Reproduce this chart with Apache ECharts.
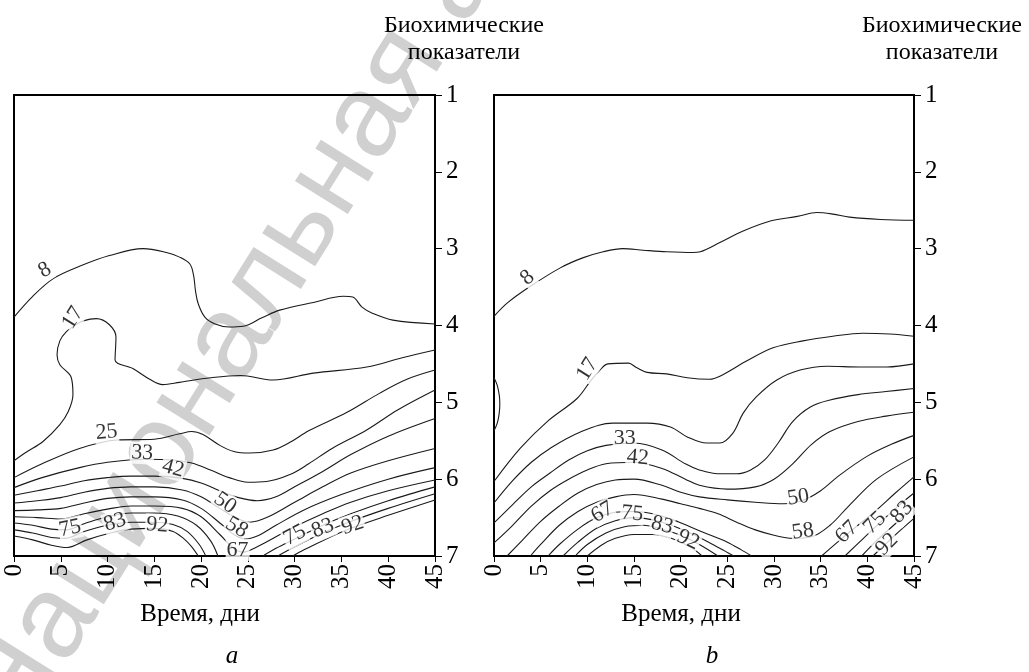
<!DOCTYPE html>
<html><head><meta charset="utf-8">
<script src="https://cdn.jsdelivr.net/npm/echarts/dist/echarts.min.js"></script>
<style>html,body{margin:0;padding:0;background:#fff}#c{width:1029px;height:672px}</style>
</head><body><div id="c"></div>
<script>
// tick labels
const dayTicks = [0,5,10,15,20,25,30,35,40,45];
const indicatorTicks = [1,2,3,4,5,6,7];
const xTitle = 'Время, дни';
const yTitle = ['Биохимические','показатели'];
const panelNames = ['a','b'];

// ---- Panel a contour lines: [day, indicator] ----
const a8 = [[0,3.89],[2,3.62],[4.2,3.39],[7,3.23],[10.2,3.09],[13.8,3.0],[16.3,3.05],[17.7,3.11],[18.8,3.2],[19.2,3.35],[19.4,3.55],[19.7,3.72],[20.4,3.89],[21.5,3.98],[23,4.02],[24.5,4.01],[26.5,3.9],[28.4,3.80],[32,3.70],[35.2,3.62],[36.2,3.63],[37.2,3.76],[38.3,3.84],[40.5,3.93],[45,3.98]];
const a17 = [[0,5.76],[1.3,5.65],[3.1,5.51],[4.9,5.29],[5.8,5.12],[6.3,4.9],[6.1,4.67],[4.9,4.51],[4.6,4.38],[4.9,4.2],[5.6,4.08],[6.5,4.0],[7.4,3.94],[8.8,3.91],[10.2,3.99],[10.9,4.15],[10.8,4.45],[12.7,4.56],[14.5,4.70],[15.9,4.77],[17.7,4.74],[21,4.68],[24.2,4.65],[27.7,4.71],[32,4.62],[37.7,4.54],[41.5,4.42],[45,4.32]];
const a25 = [[0,5.98],[3,5.8],[7,5.6],[11,5.49],[15,5.48],[17.7,5.41],[19,5.38],[20.2,5.42],[22,5.56],[23.5,5.64],[25.2,5.66],[27.7,5.62],[29.5,5.52],[31.5,5.37],[35.6,5.13],[39.1,4.88],[42,4.7],[45,4.58]];
const a33 = [[0,6.11],[3,5.98],[7,5.85],[10,5.78],[14,5.74],[17,5.75],[19,5.79],[21,5.88],[23,5.98],[25,6.04],[27,6.03],[29.5,5.94],[31.5,5.8],[34,5.6],[37.7,5.36],[41,5.1],[45,4.84]];
const a42 = [[0,6.21],[2.5,6.15],[5,6.09],[7.5,6.02],[10,5.98],[12.5,5.96],[15,5.96],[18,5.99],[20,6.05],[22,6.15],[24,6.24],[26,6.28],[28,6.23],[30,6.1],[33,5.9],[36,5.68],[40,5.44],[45,5.21]];
const a50 = [[0,6.31],[2.5,6.28],[5,6.24],[7.5,6.17],[10,6.12],[12.5,6.1],[15,6.1],[18,6.14],[20,6.23],[22,6.38],[24,6.52],[25.2,6.56],[27,6.5],[30,6.3],[33,6.1],[36,5.92],[40,5.76],[45,5.6]];
const a58 = [[0,6.41],[2.5,6.4],[5,6.38],[7.5,6.31],[10,6.25],[12.5,6.23],[15,6.23],[18,6.27],[20,6.38],[22,6.57],[23.5,6.72],[24.7,6.78],[26,6.74],[28,6.6],[31,6.4],[35,6.2],[40,6.0],[45,5.85]];
const a67 = [[0,6.49],[2.5,6.5],[5,6.52],[7.5,6.45],[10,6.39],[12.5,6.35],[15,6.35],[18,6.38],[20,6.49],[22,6.72],[23.5,6.9],[24.5,6.95],[26,6.88],[28,6.75],[30,6.62],[33,6.45],[36,6.3],[40,6.15],[45,6.01]];
const a75 = [[0,6.57],[2,6.6],[4,6.65],[5.5,6.66],[7.5,6.58],[10,6.49],[12.5,6.44],[15,6.44],[17.5,6.48],[19.5,6.6],[21,6.8],[21.8,7]];
const a83 = [[0,6.66],[2,6.7],[4,6.76],[5.5,6.77],[7.5,6.68],[10,6.6],[12.5,6.56],[15,6.56],[17,6.59],[18.5,6.68],[19.8,6.85],[20.5,7]];
const a92 = [[0,6.74],[2,6.79],[4,6.86],[5.7,6.89],[7.8,6.79],[10.3,6.7],[12.5,6.65],[15,6.64],[17,6.68],[18.2,6.78],[19,6.88],[19.7,7]];
const a75r = [[26.6,7],[28,6.9],[30,6.78],[33,6.6],[36,6.45],[40,6.28],[45,6.10]];
const a83r = [[28.2,7],[30,6.88],[33,6.7],[36,6.55],[40,6.38],[45,6.19]];
const a92r = [[29.8,7],[31,6.92],[33,6.8],[36,6.64],[40,6.47],[45,6.27]];
const linesA = [a8,a17,a25,a33,a42,a50,a58,a67,a75,a83,a92,a75r,a83r,a92r];

// labels on panel a: [day, indicator, text]
const labelsA = [[3.3,3.28,'8'],[6.3,3.90,'17'],[9.9,5.39,'25'],[13.7,5.66,'33'],[17.0,5.86,'42'],[22.55,6.31,'50'],[23.8,6.63,'58'],[23.9,6.92,'67'],[6.0,6.64,'75'],[10.8,6.56,'83'],[15.3,6.60,'92'],[30.0,6.73,'75'],[33.0,6.64,'83'],[36.2,6.60,'92']];
const rotA = [30,58,5,-3,-15,-35,-30,0,12,18,-5,28,22,18];

// ---- Panel b contour lines ----
const b8 = [[0,3.88],[1.5,3.7],[3.9,3.49],[7.1,3.25],[9.5,3.12],[11.7,3.04],[13.8,3.0],[16,3.02],[18.5,3.04],[21.3,3.05],[22.1,3.04],[24.2,2.92],[26.7,2.77],[29.6,2.64],[32.5,2.58],[34.6,2.53],[36.3,2.55],[38.1,2.59],[41.4,2.62],[45,2.63]];
const b17 = [[0,6.03],[2.8,5.6],[5.7,5.25],[8.9,4.95],[10.3,4.73],[11.2,4.6],[12.2,4.5],[14.4,4.49],[15.3,4.55],[16.4,4.61],[18.5,4.63],[20.7,4.68],[23.1,4.70],[24.2,4.66],[27.1,4.46],[29.9,4.29],[33.1,4.20],[36.3,4.14],[39.5,4.10],[42.4,4.11],[45,4.14]];
const b17loop = [[0,4.68],[0.35,4.78],[0.58,4.92],[0.62,5.03],[0.55,5.15],[0.35,5.27],[0,5.37]];
const b25 = [[0,6.31],[2,6.02],[4,5.78],[6,5.6],[9.2,5.39],[12.75,5.27],[16.4,5.27],[18.9,5.32],[20.7,5.45],[22.8,5.53],[24.2,5.53],[25.6,5.40],[26.7,5.14],[28.1,4.93],[30.3,4.71],[32.8,4.58],[35.7,4.53],[39.2,4.54],[42.1,4.54],[45,4.50]];
const b33 = [[0,6.57],[2,6.33],[4,6.1],[6,5.92],[8,5.75],[10,5.63],[12,5.56],[15,5.53],[18,5.62],[20.5,5.8],[22,5.88],[24,5.93],[26,5.93],[27.5,5.88],[29,5.75],[30.5,5.52],[32,5.25],[33.9,5.06],[36,4.97],[39,4.9],[42,4.86],[45,4.82]];
const b42 = [[0,6.83],[2,6.6],[4,6.35],[6,6.15],[8,6.0],[10,5.88],[12,5.8],[15,5.78],[18,5.86],[20.5,6.0],[22,6.08],[25,6.13],[28,6.1],[30,6.0],[32,5.8],[34,5.55],[36,5.38],[39,5.25],[42,5.18],[45,5.13]];
const b50 = [[1.4,7],[3,6.8],[5,6.55],[7,6.35],[9,6.18],[11,6.07],[13,6.01],[15,6.0],[18,6.08],[20,6.17],[22,6.23],[25,6.27],[28,6.3],[31,6.32],[33,6.28],[35,6.15],[37,5.95],[40,5.7],[42.5,5.55],[45,5.43]];
const b58 = [[3.9,7],[5,6.85],[7,6.6],[9,6.42],[11,6.3],[13,6.23],[15,6.2],[18,6.26],[20,6.32],[22,6.38],[24,6.45],[26,6.56],[28,6.66],[30,6.73],[32,6.77],[34,6.75],[36,6.6],[38,6.35],[41,6.0],[45,5.71]];
const b67 = [[5.8,7],[7,6.85],[9,6.65],[11,6.5],[13,6.43],[15,6.42],[17,6.45],[19,6.52],[21,6.62],[23,6.72],[25,6.82],[26.5,6.92],[27.6,7]];
const b75 = [[7.4,7],[9,6.82],[11,6.64],[13,6.54],[15,6.5],[17,6.53],[19,6.6],[21,6.7],[23,6.82],[24.8,6.94],[25.7,7]];
const b83 = [[8.7,7],[10,6.85],[12,6.7],[14,6.62],[16,6.6],[18,6.65],[20,6.73],[22,6.85],[24,7]];
const b92 = [[10,7],[11.5,6.86],[13,6.77],[15,6.72],[17,6.72],[19,6.77],[21,6.88],[22.3,7]];
const b67r = [[35.1,7],[37,6.8],[39,6.6],[41,6.4],[43,6.18],[45,5.97]];
const b75r = [[37.6,7],[39.5,6.78],[41.5,6.55],[43.3,6.35],[45,6.18]];
const b83r = [[39.4,7],[41,6.8],[43,6.58],[45,6.36]];
const b92r = [[40.6,7],[42,6.84],[43.5,6.67],[45,6.51]];
const linesB = [b8,b17,b17loop,b25,b33,b42,b50,b58,b67,b75,b83,b92,b67r,b75r,b83r,b92r];

const labelsB = [[3.6,3.38,'8'],[10.0,4.57,'17'],[14.0,5.47,'33'],[15.4,5.72,'42'],[32.6,6.24,'50'],[33.1,6.68,'58'],[11.6,6.43,'67'],[14.8,6.45,'75'],[18.0,6.60,'83'],[20.8,6.79,'92'],[37.8,6.69,'67'],[40.8,6.57,'75'],[43.7,6.43,'83'],[42.1,6.85,'92']];
const rotB = [40,58,0,-5,8,8,30,-5,-15,-25,45,45,48,45];

const watermark = 'Национальная академия наук Беларуси';

const SERIF = 'Liberation Serif, Times New Roman, serif';
const chart = echarts.init(document.getElementById('c'), null, {renderer:'canvas'});

function xAx(g){
  return {gridIndex:g,type:'value',min:0,max:45,interval:5,
    axisLine:{show:true,onZero:false,lineStyle:{color:'#000',width:2}},
    axisTick:{show:true,length:6,lineStyle:{color:'#000',width:1}},
    axisLabel:{rotate:90,margin:8,fontFamily:SERIF,fontSize:25,color:'#000',
      formatter:v=>dayTicks.includes(v)?String(v):''},
    splitLine:{show:false}};
}
function yAx(g){
  return {gridIndex:g,type:'value',position:'right',inverse:true,min:1,max:7,interval:1,
    axisLine:{show:true,onZero:false,lineStyle:{color:'#000',width:2}},
    axisTick:{show:true,length:7,lineStyle:{color:'#000',width:1}},
    axisLabel:{margin:11,fontFamily:SERIF,fontSize:25,color:'#000',
      formatter:v=>indicatorTicks.includes(v)?String(v):''},
    splitLine:{show:false}};
}
function lineSeries(arr,g){
  return {type:'line',xAxisIndex:g,yAxisIndex:g,data:arr,smooth:0.35,symbol:'none',
    silent:true,lineStyle:{color:'#1a1a1a',width:1.1},z:3};
}
function labelSeries(labels,rots,g){
  return {type:'scatter',xAxisIndex:g,yAxisIndex:g,symbolSize:1,silent:true,z:5,
    itemStyle:{color:'rgba(0,0,0,0)'},
    label:{show:true,position:'inside',fontFamily:SERIF,fontSize:22,color:'#000',
      backgroundColor:'#fff',padding:[0,1]},
    data:labels.map((l,i)=>({value:[l[0],l[1]],label:{formatter:l[2],rotate:rots[i]}}))};
}

const series = [];
linesA.forEach(a=>series.push(lineSeries(a,0)));
linesB.forEach(a=>series.push(lineSeries(a,1)));
series.push(labelSeries(labelsA,rotA,0));
series.push(labelSeries(labelsB,rotB,1));

const option = {
  animation:false,
  backgroundColor:'#fff',
  grid:[
    {left:14,top:95,width:421,height:461,show:true,borderColor:'#000',borderWidth:2,containLabel:false,outerBoundsMode:'none'},
    {left:494,top:95,width:420,height:461,show:true,borderColor:'#000',borderWidth:2,containLabel:false,outerBoundsMode:'none'}
  ],
  xAxis:[xAx(0),xAx(1)],
  yAxis:[yAx(0),yAx(1)],
  series:series,
  graphic:{elements:[
    {type:'text',z:-10,silent:true,x:-8,y:722,rotation:58*Math.PI/180,
      style:{text:watermark,fontFamily:'Liberation Sans, Arial, sans-serif',fontSize:118,fill:'rgba(150,150,150,0.45)',textVerticalAlign:'middle',textAlign:'left'}},
    {type:'text',x:464,y:26,style:{text:yTitle[0],fontFamily:SERIF,fontSize:24,fill:'#000',textAlign:'center',textVerticalAlign:'middle'}},
    {type:'text',x:464,y:53,style:{text:yTitle[1],fontFamily:SERIF,fontSize:24,fill:'#000',textAlign:'center',textVerticalAlign:'middle'}},
    {type:'text',x:942,y:26,style:{text:yTitle[0],fontFamily:SERIF,fontSize:24,fill:'#000',textAlign:'center',textVerticalAlign:'middle'}},
    {type:'text',x:942,y:53,style:{text:yTitle[1],fontFamily:SERIF,fontSize:24,fill:'#000',textAlign:'center',textVerticalAlign:'middle'}},
    {type:'text',x:200,y:614,style:{text:xTitle,fontFamily:SERIF,fontSize:25,fill:'#000',textAlign:'center',textVerticalAlign:'middle'}},
    {type:'text',x:681,y:614,style:{text:xTitle,fontFamily:SERIF,fontSize:25,fill:'#000',textAlign:'center',textVerticalAlign:'middle'}},
    {type:'text',x:232,y:656,style:{text:panelNames[0],fontFamily:SERIF,fontStyle:'italic',fontSize:25,fill:'#000',textAlign:'center',textVerticalAlign:'middle'}},
    {type:'text',x:712,y:656,style:{text:panelNames[1],fontFamily:SERIF,fontStyle:'italic',fontSize:25,fill:'#000',textAlign:'center',textVerticalAlign:'middle'}}
  ]}
};
chart.setOption(option);
</script>
</body></html>
